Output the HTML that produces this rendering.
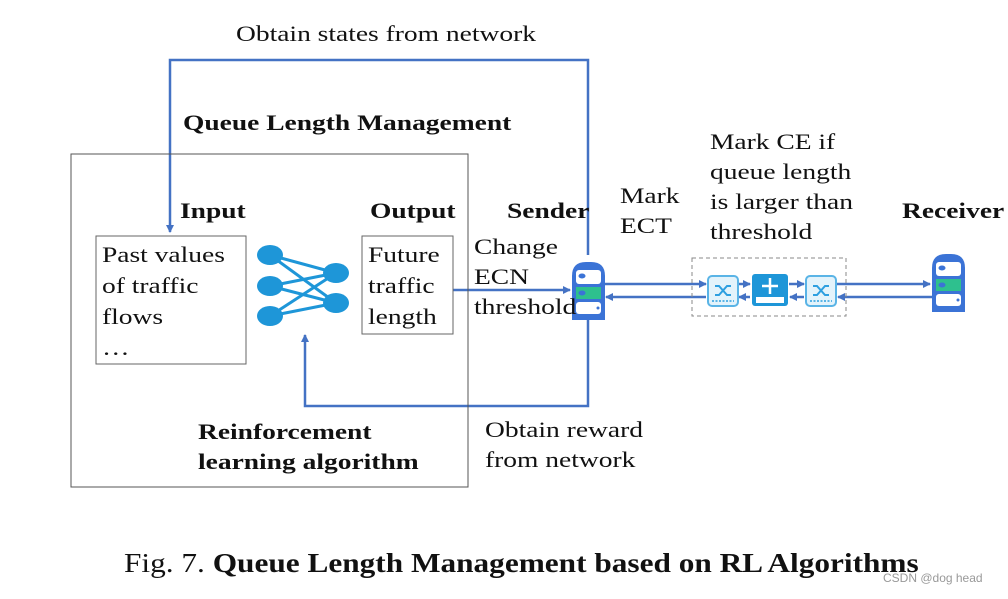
<!DOCTYPE html>
<html><head><meta charset="utf-8"><style>
body{margin:0;background:#fff;}
svg text{font-family:"Liberation Serif",serif;fill:#111;}
</style></head><body>
<svg width="1008" height="594" viewBox="0 0 1008 594" xmlns="http://www.w3.org/2000/svg">
<defs>
<marker id="a" markerWidth="8" markerHeight="8" refX="7" refY="4" orient="auto" markerUnits="userSpaceOnUse"><path d="M0,0 L8,4 L0,8 z" fill="#4472c4"/></marker>
<g id="srv">
<path d="M0,14 Q0,0 14,0 L19,0 Q33,0 33,14 L33,58 L0,58 z" fill="#3b73d6"/>
<rect x="4" y="8" width="25" height="14" rx="3" fill="#fff"/>
<rect x="4" y="25" width="25" height="12" fill="#2ec08e"/>
<rect x="4" y="40" width="25" height="12" rx="3" fill="#fff"/>
<ellipse cx="10" cy="14" rx="3.5" ry="2.5" fill="#3b73d6"/>
<ellipse cx="10" cy="31" rx="3.5" ry="2.5" fill="#3b73d6"/>
<circle cx="26" cy="46" r="1.5" fill="#3b73d6"/>
</g>
<g id="sw">
<rect x="0" y="0" width="30" height="30" rx="4" fill="#e3f3fb" stroke="#5ab4e6" stroke-width="2"/>
<path d="M7,10 L11,10 L19,19 L23,19 M7,19 L11,19 L19,10 L23,10" stroke="#2d9fe0" stroke-width="2" fill="none"/>
<line x1="4" y1="25" x2="26" y2="25" stroke="#5ab4e6" stroke-width="2" stroke-dasharray="2 1.5"/>
</g>
</defs>
<g fill="none" stroke="#4472c4" stroke-width="2.5">
<polyline points="588,255 588,60 170,60 170,232" marker-end="url(#a)"/>
<polyline points="588,320 588,406 305,406 305,335" marker-end="url(#a)"/>
<line x1="453" y1="290" x2="570" y2="290" marker-end="url(#a)"/>
<line x1="604" y1="284" x2="706" y2="284" marker-end="url(#a)"/>
<line x1="738" y1="284" x2="750" y2="284" marker-end="url(#a)"/>
<line x1="789" y1="284" x2="804" y2="284" marker-end="url(#a)"/>
<line x1="837" y1="284" x2="930" y2="284" marker-end="url(#a)"/>
<line x1="932" y1="297" x2="838" y2="297" marker-end="url(#a)"/>
<line x1="804" y1="297" x2="790" y2="297" marker-end="url(#a)"/>
<line x1="750" y1="297" x2="739" y2="297" marker-end="url(#a)"/>
<line x1="706" y1="297" x2="606" y2="297" marker-end="url(#a)"/>
</g>
<rect x="71" y="154" width="397" height="333" fill="none" stroke="#555" stroke-width="1"/>
<rect x="96" y="236" width="150" height="128" fill="none" stroke="#666" stroke-width="1"/>
<rect x="362" y="236" width="91" height="98" fill="none" stroke="#666" stroke-width="1"/>
<rect x="692" y="258" width="154" height="58" fill="none" stroke="#888" stroke-width="1" stroke-dasharray="4 3"/>
<g stroke="#1e96d8" stroke-width="3">
<line x1="270" y1="255" x2="336" y2="273"/><line x1="270" y1="255" x2="336" y2="303"/>
<line x1="270" y1="286" x2="336" y2="273"/><line x1="270" y1="286" x2="336" y2="303"/>
<line x1="270" y1="316" x2="336" y2="273"/><line x1="270" y1="316" x2="336" y2="303"/>
</g>
<g fill="#1e96d8">
<ellipse cx="270" cy="255" rx="13" ry="10"/><ellipse cx="270" cy="286" rx="13" ry="10"/><ellipse cx="270" cy="316" rx="13" ry="10"/>
<ellipse cx="336" cy="273" rx="13" ry="10"/><ellipse cx="336" cy="303" rx="13" ry="10"/>
</g>
<use href="#srv" x="572" y="262"/>
<use href="#srv" x="932" y="254"/>
<use href="#sw" x="708" y="276"/>
<use href="#sw" x="806" y="276"/>
<rect x="752" y="274" width="36" height="32" rx="3" fill="#1e96d8"/>
<path d="M770,278 L770,294 M762,286 L778,286" stroke="#fff" stroke-width="2.5"/>
<rect x="756" y="297" width="28" height="6" fill="#fff"/>
<g transform="scale(1.25,1)">
<g font-size="22">
<text x="188.8" y="41">Obtain states from network</text>
<text x="81.6" y="262">Past values</text><text x="81.6" y="293">of traffic</text><text x="81.6" y="324">flows</text><text x="81.6" y="355">…</text>
<text x="294.4" y="262">Future</text><text x="294.4" y="293">traffic</text><text x="294.4" y="324">length</text>
<text x="379.2" y="254">Change</text><text x="379.2" y="284">ECN</text><text x="379.2" y="314">threshold</text>
<text x="496" y="203">Mark</text><text x="496" y="233">ECT</text>
<text x="568" y="149">Mark CE if</text><text x="568" y="179">queue length</text><text x="568" y="209">is larger than</text><text x="568" y="239">threshold</text>
<text x="388" y="437">Obtain reward</text><text x="388" y="467">from network</text>
</g>
<g font-size="22" font-weight="bold">
<text x="146.4" y="130">Queue Length Management</text>
<text x="144" y="218">Input</text><text x="296" y="218">Output</text>
<text x="405.6" y="218">Sender</text><text x="721.6" y="218">Receiver</text>
<text x="158.4" y="439">Reinforcement</text><text x="158.4" y="469">learning algorithm</text>
</g>
</g>
<g transform="scale(1.16,1)">
<text x="106.9" y="572" font-size="27">Fig. 7.  <tspan font-weight="bold">Queue Length Management based on RL Algorithms</tspan></text>
</g>
<text x="883" y="582" font-size="12" style="font-family:'Liberation Sans',sans-serif;fill:#999">CSDN @dog head</text>
</svg>
</body></html>
